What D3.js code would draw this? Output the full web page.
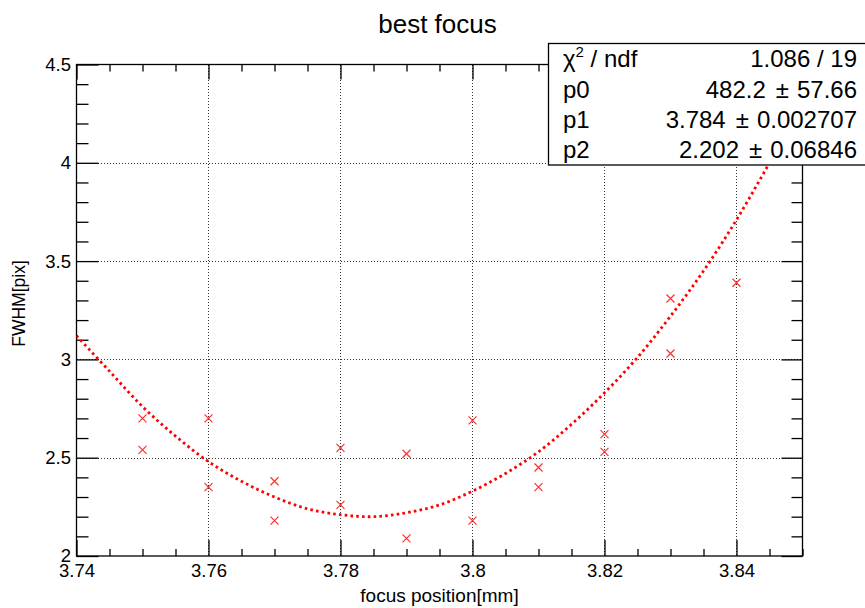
<!DOCTYPE html>
<html>
<head>
<meta charset="utf-8">
<script src="https://cdn.jsdelivr.net/npm/d3@7"></script>
<style>
  html, body { margin: 0; padding: 0; background: #fff; }
  svg { display: block; font-family: "Liberation Sans", Arial, Helvetica, sans-serif; }
</style>
</head>
<body>
<svg id="chart" width="865" height="608"></svg>
<script>
// ---- data ----
const pointX = [3.75, 3.75, 3.76, 3.76, 3.77, 3.77, 3.78, 3.78, 3.79, 3.79,
                3.80, 3.80, 3.81, 3.81, 3.82, 3.82, 3.83, 3.83, 3.84];
const pointY = [2.70, 2.54, 2.70, 2.35, 2.38, 2.18, 2.55, 2.26, 2.52, 2.09,
                2.69, 2.18, 2.45, 2.35, 2.62, 2.53, 3.31, 3.03, 3.39];
// fitted curve
const fitX = [3.74, 3.745, 3.75, 3.755, 3.76, 3.765, 3.77, 3.775, 3.78, 3.785, 3.79, 3.795,
              3.80, 3.805, 3.81, 3.815, 3.82, 3.825, 3.83, 3.835, 3.84, 3.845, 3.85];
const fitY = [3.12, 2.94, 2.76, 2.61, 2.48, 2.38, 2.30, 2.24, 2.21, 2.20, 2.22, 2.26,
              2.33, 2.42, 2.53, 2.67, 2.83, 3.01, 3.22, 3.45, 3.71, 4.00, 4.30];
const xMajor = [3.74, 3.76, 3.78, 3.80, 3.82, 3.84];
const xMinor = [3.745, 3.75, 3.755, 3.765, 3.77, 3.775, 3.785, 3.79, 3.795, 3.805, 3.81, 3.815,
                3.825, 3.83, 3.835, 3.845, 3.85];
const yMajor = [2, 2.5, 3, 3.5, 4, 4.5];
const yMinor = [2.1, 2.2, 2.3, 2.4, 2.6, 2.7, 2.8, 2.9, 3.1, 3.2, 3.3, 3.4,
                3.6, 3.7, 3.8, 3.9, 4.1, 4.2, 4.3, 4.4];
const xLabels = ["3.74", "3.76", "3.78", "3.8", "3.82", "3.84"];
const yLabels = ["2", "2.5", "3", "3.5", "4", "4.5"];
const statNames = ["χ2 / ndf", "p0", "p1", "p2"];
const statValues = ["1.086", "482.2", "3.784", "2.202"];
const statErrors = ["19", "57.66", "0.002707", "0.06846"];

// ---- layout ----
const svg = d3.select("#chart");
const L = 76.5, R = 802.5, T = 64.5, B = 556;
const x = d3.scaleLinear().domain([3.74, 3.85]).range([L, R]);
const y = d3.scaleLinear().domain([2, 4.5]).range([B, T]);

svg.append("rect").attr("width", 865).attr("height", 608).attr("fill", "#fff");

// grid
const grid = svg.append("g").attr("stroke", "#333").attr("stroke-width", 1)
  .attr("stroke-dasharray", "1,2").attr("shape-rendering", "crispEdges");
grid.selectAll(".gx").data(xMajor.slice(1)).join("line")
  .attr("x1", d => Math.round(x(d)) + 0.5).attr("x2", d => Math.round(x(d)) + 0.5)
  .attr("y1", T).attr("y2", B);
grid.selectAll(".gy").data(yMajor.slice(1, -1)).join("line")
  .attr("y1", d => Math.round(y(d)) + 0.5).attr("y2", d => Math.round(y(d)) + 0.5)
  .attr("x1", L).attr("x2", R);

// axes (ticks inward on all four sides)
function styleAxis(g) {
  g.select(".domain").remove();
  g.selectAll(".tick line").attr("stroke", "#000").attr("stroke-width", 1.3);
}
const fontTick = 18.5;
svg.append("g").attr("transform", `translate(0,${B})`)
  .call(d3.axisBottom(x).tickValues(xMinor).tickSize(-7).tickFormat(""))
  .call(styleAxis);
svg.append("g").attr("transform", `translate(0,${B})`)
  .call(d3.axisBottom(x).tickValues(xMajor).tickSize(-16).tickPadding(21)
        .tickFormat((d, i) => xLabels[i]))
  .call(styleAxis)
  .call(g => g.selectAll("text").attr("font-size", fontTick).attr("fill", "#000")
        .attr("font-family", "Liberation Sans, Arial, sans-serif").attr("dy", "0"));
svg.append("g").attr("transform", `translate(0,${T})`)
  .call(d3.axisTop(x).tickValues(xMinor).tickSize(-7).tickFormat("")).call(styleAxis);
svg.append("g").attr("transform", `translate(0,${T})`)
  .call(d3.axisTop(x).tickValues(xMajor).tickSize(-15).tickFormat("")).call(styleAxis);

svg.append("g").attr("transform", `translate(${L},0)`)
  .call(d3.axisLeft(y).tickValues(yMinor).tickSize(-12).tickFormat("")).call(styleAxis);
svg.append("g").attr("transform", `translate(${L},0)`)
  .call(d3.axisLeft(y).tickValues(yMajor).tickSize(-22).tickPadding(6)
        .tickFormat((d, i) => yLabels[i]))
  .call(styleAxis)
  .call(g => g.selectAll("text").attr("font-size", fontTick).attr("fill", "#000")
        .attr("font-family", "Liberation Sans, Arial, sans-serif").attr("x", -5.5));
svg.append("g").attr("transform", `translate(${R},0)`)
  .call(d3.axisRight(y).tickValues(yMinor).tickSize(-11).tickFormat("")).call(styleAxis);
svg.append("g").attr("transform", `translate(${R},0)`)
  .call(d3.axisRight(y).tickValues(yMajor).tickSize(-21).tickFormat("")).call(styleAxis);

// frame
svg.append("rect").attr("x", L).attr("y", T).attr("width", R - L).attr("height", B - T)
  .attr("fill", "none").attr("stroke", "#000").attr("stroke-width", 1.3);

// clip
svg.append("clipPath").attr("id", "clip").append("rect")
  .attr("x", L).attr("y", T).attr("width", R - L).attr("height", B - T);

// fit curve
const fitData = fitX.map((d, i) => [d, fitY[i]]);
svg.append("path").datum(fitData)
  .attr("clip-path", "url(#clip)")
  .attr("fill", "none").attr("stroke", "#ff0000").attr("stroke-width", 2.8)
  .attr("stroke-dasharray", "2.6,3.2")
  .attr("d", d3.line().x(d => x(d[0])).y(d => y(d[1])).curve(d3.curveCatmullRom));

// points (x markers)
const pts = pointX.map((d, i) => [d, pointY[i]]);
const s = 4;
svg.append("g").selectAll("path").data(pts).join("path")
  .attr("fill", "none").attr("stroke", "#ff3030").attr("stroke-width", 1.2)
  .attr("d", d => {
    const cx = x(d[0]), cy = y(d[1]);
    return `M${cx - s},${cy - s}L${cx + s},${cy + s}M${cx - s},${cy + s}L${cx + s},${cy - s}`;
  });

// title & axis titles
svg.append("text").attr("x", 437.5).attr("y", 33).attr("text-anchor", "middle")
  .attr("font-size", 26).attr("fill", "#000").text("best focus");
svg.append("text").attr("x", (L + R) / 2).attr("y", 602).attr("text-anchor", "middle")
  .attr("font-size", 19).attr("fill", "#000").text("focus position[mm]");
svg.append("text").attr("transform", "translate(25,303.5) rotate(-90)")
  .attr("text-anchor", "middle").attr("font-size", 17.5).attr("fill", "#000").text("FWHM[pix]");

// stats box
const box = svg.append("g");
box.append("rect").attr("x", 548.5).attr("y", 43.5).attr("width", 330).attr("height", 121.5)
  .attr("fill", "#fff").attr("stroke", "#000").attr("stroke-width", 1.3);
const rowY = [67, 97.5, 127.5, 157.5];
const fs = 24;
statNames.forEach((n, i) => {
  const t = box.append("text").attr("x", 563).attr("y", rowY[i]).attr("font-size", fs).attr("fill", "#000");
  if (i === 0) {
    t.append("tspan").text("χ");
    t.append("tspan").attr("font-size", 15).attr("dy", -10).text("2");
    t.append("tspan").attr("dy", 10).text(" / ndf");
  } else {
    t.text(n);
  }
  const v = box.append("text").attr("x", 857).attr("y", rowY[i]).attr("text-anchor", "end")
    .attr("font-size", fs).attr("fill", "#000");
  if (i === 0) {
    v.text(statValues[i] + " / " + statErrors[i]);
  } else {
    v.append("tspan").text(statValues[i]);
    v.append("tspan").attr("dx", 10).text("±");
    v.append("tspan").attr("dx", 8).text(statErrors[i]);
  }
});
</script>
</body>
</html>
